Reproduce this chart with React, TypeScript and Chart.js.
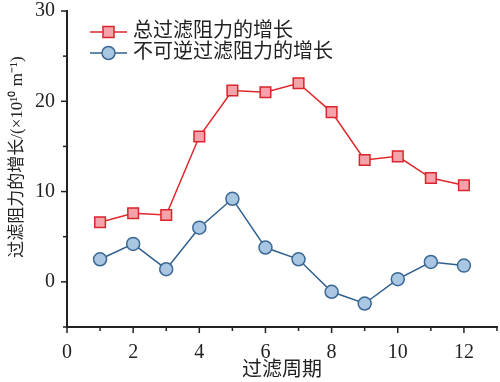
import React, { useEffect, useRef } from "react";
import { Chart, registerables } from "chart.js";

Chart.register(...registerables);

const cycles = [1, 2, 3, 4, 5, 6, 7, 8, 9, 10, 11, 12];
const totalGrowth = [6.6, 7.6, 7.4, 16.1, 21.2, 21.0, 22.0, 18.8, 13.5, 13.9, 11.5, 10.7];
const irreversibleGrowth = [2.5, 4.2, 1.4, 6.0, 9.2, 3.8, 2.5, -1.1, -2.4, 0.3, 2.2, 1.8];
const seriesNames = ["总过滤阻力的增长", "不可逆过滤阻力的增长"];
const xTitle = "过滤周期";
const yTitle = "过滤阻力的增长/(×10¹⁰ m⁻¹)";

const FONT = '"Liberation Serif", "Noto Sans CJK SC", serif';

const tickPlugin = {
  id: "customTicks",
  afterDraw(chart: any) {
    const ctx = chart.ctx;
    const xs = chart.scales.x;
    const ys = chart.scales.y;
    const area = chart.chartArea;
    ctx.save();
    ctx.strokeStyle = "#222";
    ctx.lineWidth = 1.5;
    for (let v = 0; v <= 13; v++) {
      const px = xs.getPixelForValue(v);
      const len = v % 2 === 0 ? 6 : 4;
      ctx.beginPath();
      ctx.moveTo(px, area.bottom);
      ctx.lineTo(px, area.bottom + len);
      ctx.stroke();
    }
    for (let v = -5; v <= 30; v += 5) {
      const py = ys.getPixelForValue(v);
      const len = v % 10 === 0 ? 6 : 4;
      ctx.beginPath();
      ctx.moveTo(area.left, py);
      ctx.lineTo(area.left - len, py);
      ctx.stroke();
    }
    // axis titles
    ctx.fillStyle = "#222";
    ctx.textAlign = "center";
    ctx.textBaseline = "middle";
    ctx.font = "20px " + FONT;
    ctx.fillText(xTitle, (area.left + area.right) / 2, 371);
    ctx.save();
    ctx.translate(18, 157);
    ctx.rotate(-Math.PI / 2);
    ctx.font = "17px " + FONT;
    ctx.fillText(yTitle, 0, 0);
    ctx.restore();
    // legend
    const items = chart.data.datasets;
    items.forEach((ds: any, i: number) => {
      const y = 32 + i * 21;
      const x0 = 90;
      const x1 = 127;
      ctx.strokeStyle = ds.borderColor;
      ctx.lineWidth = 1.5;
      ctx.beginPath();
      ctx.moveTo(x0, y);
      ctx.lineTo(x1, y);
      ctx.stroke();
      const cx = (x0 + x1) / 2;
      ctx.fillStyle = ds.pointBackgroundColor;
      ctx.strokeStyle = ds.pointBorderColor;
      ctx.lineWidth = 1.5;
      if (ds.pointStyle === "rect") {
        ctx.fillRect(cx - 5.5, y - 5.5, 11, 11);
        ctx.strokeRect(cx - 5.5, y - 5.5, 11, 11);
      } else {
        ctx.beginPath();
        ctx.arc(cx, y, 6.5, 0, Math.PI * 2);
        ctx.fill();
        ctx.stroke();
      }
      ctx.fillStyle = "#222";
      ctx.font = "20px " + FONT;
      ctx.textBaseline = "middle";
      ctx.textAlign = "left";
      ctx.fillText(ds.label, 133, y);
    });
    ctx.restore();
  },
};

export default function App() {
  const ref = useRef<HTMLCanvasElement>(null);
  useEffect(() => {
    document.body.style.margin = "0";
    const canvas = ref.current!;
    const chart = new Chart(canvas, {
      type: "line",
      data: {
        datasets: [
          {
            label: seriesNames[0],
            data: cycles.map((c, i) => ({ x: c, y: totalGrowth[i] })),
            borderColor: "#e0262b",
            borderWidth: 1.5,
            pointStyle: "rect",
            pointRadius: 7.5,
            pointBackgroundColor: "#f5a3aa",
            pointBorderColor: "#d9252b",
            pointBorderWidth: 1.5,
          },
          {
            label: seriesNames[1],
            data: cycles.map((c, i) => ({ x: c, y: irreversibleGrowth[i] })),
            borderColor: "#2f5f8c",
            borderWidth: 1.5,
            pointStyle: "circle",
            pointRadius: 6.5,
            pointBackgroundColor: "#a9c6e2",
            pointBorderColor: "#3a6894",
            pointBorderWidth: 1.5,
          },
        ],
      },
      plugins: [tickPlugin],
      options: {
        animation: false,
        responsive: false,
        layout: { autoPadding: false, padding: { top: 11, right: 3, left: 0, bottom: 0 } },
        plugins: { legend: { display: false }, tooltip: { enabled: false } },
        scales: {
          x: {
            type: "linear",
            min: 0,
            max: 13,
            grid: { display: false, drawTicks: false },
            border: { display: true, color: "#222", width: 2 },
            ticks: {
              stepSize: 1,
              autoSkip: false,
              maxRotation: 0,
              padding: 14,
              color: "#222",
              font: { family: FONT, size: 20 },
              callback: (v: any) => (Number(v) % 2 === 0 && Number(v) <= 12 ? String(v) : ""),
            },
            afterFit: (s: any) => {
              s.height = 55;
              s.paddingLeft = 0;
              s.paddingRight = 0;
            },
          },
          y: {
            min: -5,
            max: 30,
            grid: { display: false, drawTicks: false },
            border: { display: true, color: "#222", width: 2 },
            ticks: {
              stepSize: 5,
              autoSkip: false,
              padding: 12,
              color: "#222",
              font: { family: FONT, size: 20 },
              callback: (v: any) => (Number(v) % 10 === 0 ? String(v) : ""),
            },
            afterFit: (s: any) => {
              s.width = 67;
              s.paddingTop = 0;
              s.paddingBottom = 0;
            },
          },
        },
      },
    });
    return () => chart.destroy();
  }, []);
  return (
    <div style={{ width: 500, height: 382 }}>
      <canvas ref={ref} width={500} height={382} style={{ display: "block" }} />
    </div>
  );
}
